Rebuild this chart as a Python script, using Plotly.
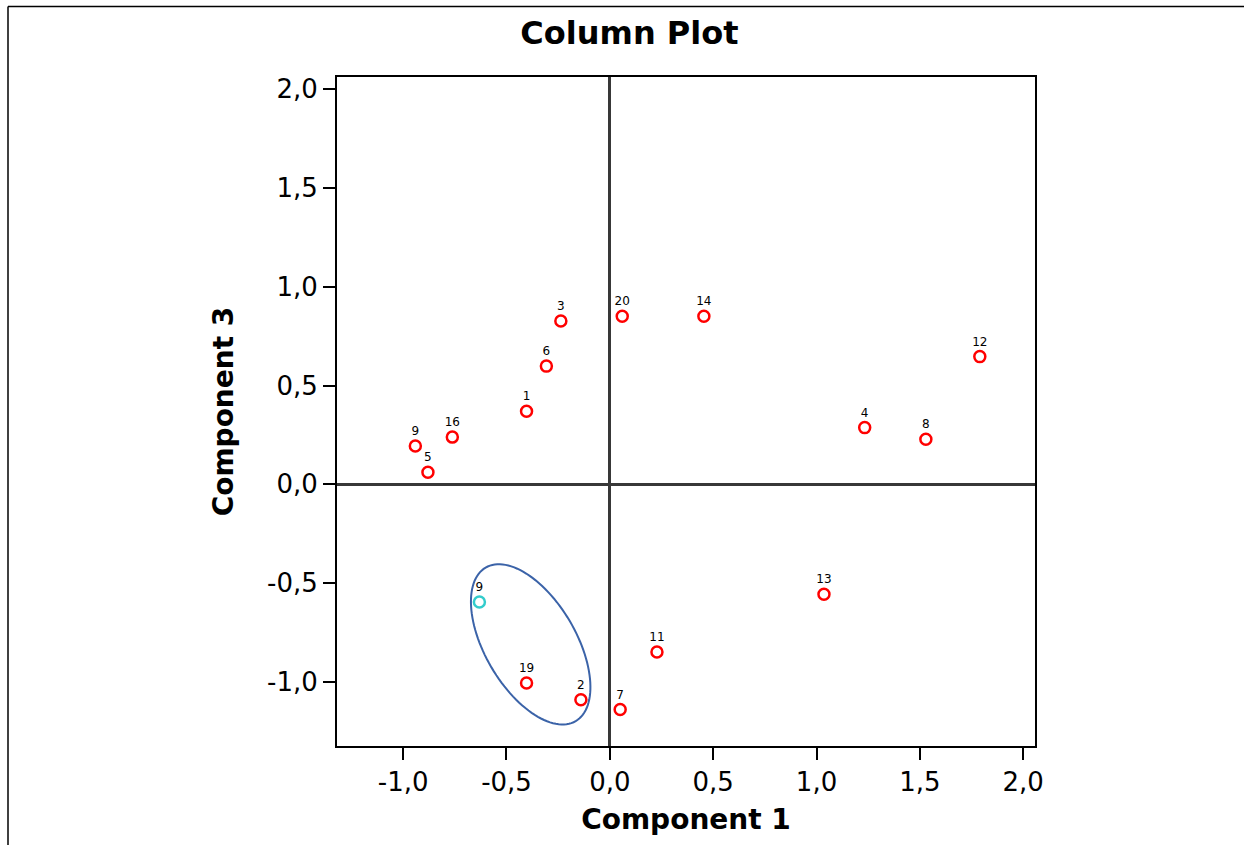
import numpy as np
import plotly.graph_objects as go

# Column scores on components 1 and 3
point_labels = ["3", "20", "14", "6", "1", "16", "9", "5", "12", "4", "8",
                "13", "11", "19", "2", "7", "9"]
component_1 = [-0.237, 0.060, 0.455, -0.307, -0.403, -0.762, -0.941, -0.880,
               1.790, 1.233, 1.529, 1.036, 0.228, -0.403, -0.140, 0.050, -0.631]
component_3 = [0.826, 0.850, 0.850, 0.598, 0.370, 0.239, 0.194, 0.061,
               0.646, 0.287, 0.228, -0.556, -0.848, -1.004, -1.089, -1.138, -0.595]
point_colors = ["#ff0000"] * 16 + ["#33cccc"]

tick_values = [-1.0, -0.5, 0.0, 0.5, 1.0, 1.5, 2.0]
tick_labels = ["-1,0", "-0,5", "0,0", "0,5", "1,0", "1,5", "2,0"]

X_RANGE = [-1.32, 2.057]
Y_RANGE = [-1.323, 2.06]

# Figure geometry
W, H = 1244, 845
M_L, M_R, M_T, M_B = 337, 209, 77, 99
plot_w = W - M_L - M_R
plot_h = H - M_T - M_B
px_per_x = plot_w / (X_RANGE[1] - X_RANGE[0])
px_per_y = plot_h / (Y_RANGE[1] - Y_RANGE[0])

# Highlight ellipse around the group (9, 19, 2), sized in screen pixels
ell_center = (-0.383, -0.809)
ell_a, ell_b, ell_tilt_deg = 89.0, 45.5, 30.4
t = np.linspace(0, 2 * np.pi, 121)
th = np.radians(ell_tilt_deg)
# major axis runs from upper-left to lower-right on screen
ux, uy = np.sin(th), np.cos(th)  # screen direction (x right, y down)
sx = ell_a * np.cos(t) * ux - ell_b * np.sin(t) * uy
sy = ell_a * np.cos(t) * uy + ell_b * np.sin(t) * ux
ex = ell_center[0] + sx / px_per_x
ey = ell_center[1] - sy / px_per_y
ell_path = "M " + " L ".join(f"{a:.5f},{b:.5f}" for a, b in zip(ex, ey)) + " Z"

FONT = "DejaVu Sans"

fig = go.Figure()
fig.add_trace(go.Scatter(
    x=component_1, y=component_3, mode="markers+text",
    text=point_labels, textposition="top center",
    textfont=dict(family=FONT, size=12, color="#000000"),
    marker=dict(symbol="circle-open", size=11, color=point_colors,
                line=dict(width=2.5, color=point_colors)),
    hoverinfo="skip", showlegend=False, cliponaxis=False,
))

axis_common = dict(
    showgrid=False, zeroline=True, zerolinecolor="#383838", zerolinewidth=2.5,
    showline=True, linecolor="#000000", linewidth=2, mirror=True,
    ticks="outside", ticklen=12, tickwidth=2, tickcolor="#000000",
    tickvals=tick_values, ticktext=tick_labels,
    tickfont=dict(family=FONT, size=26, color="#000000"),
    fixedrange=True,
)

fig.update_layout(
    width=W, height=H,
    margin=dict(l=M_L, r=M_R, t=M_T, b=M_B, autoexpand=False),
    paper_bgcolor="#ffffff", plot_bgcolor="#ffffff",
    title=dict(text="<b>Column Plot</b>", x=0.506, xanchor="center",
               y=1 - 33 / H, yanchor="middle",
               font=dict(family=FONT, size=32, color="#000000")),
    xaxis=dict(range=X_RANGE, **axis_common,
               title=dict(text="<b>Component 1</b>", standoff=13,
                          font=dict(family=FONT, size=28, color="#000000"))),
    yaxis=dict(range=Y_RANGE, **axis_common,
               title=dict(text="<b>Component 3</b>", standoff=25,
                          font=dict(family=FONT, size=28, color="#000000"))),
    shapes=[
        dict(type="path", path=ell_path, xref="x", yref="y",
             line=dict(color="#3b63a8", width=2), fillcolor="rgba(0,0,0,0)",
             layer="above"),
        # outer page frame: left and top edges
        dict(type="line", xref="paper", yref="paper",
             x0=(8 - M_L) / plot_w, x1=(8 - M_L) / plot_w,
             y0=(M_T + plot_h - H) / plot_h, y1=(M_T + plot_h - 6.5) / plot_h,
             line=dict(color="#000000", width=1.5)),
        dict(type="line", xref="paper", yref="paper",
             x0=(8 - M_L) / plot_w, x1=(W - M_L) / plot_w,
             y0=(M_T + plot_h - 6.5) / plot_h, y1=(M_T + plot_h - 6.5) / plot_h,
             line=dict(color="#000000", width=1.5)),
    ],
)

fig.write_html("out.html")
